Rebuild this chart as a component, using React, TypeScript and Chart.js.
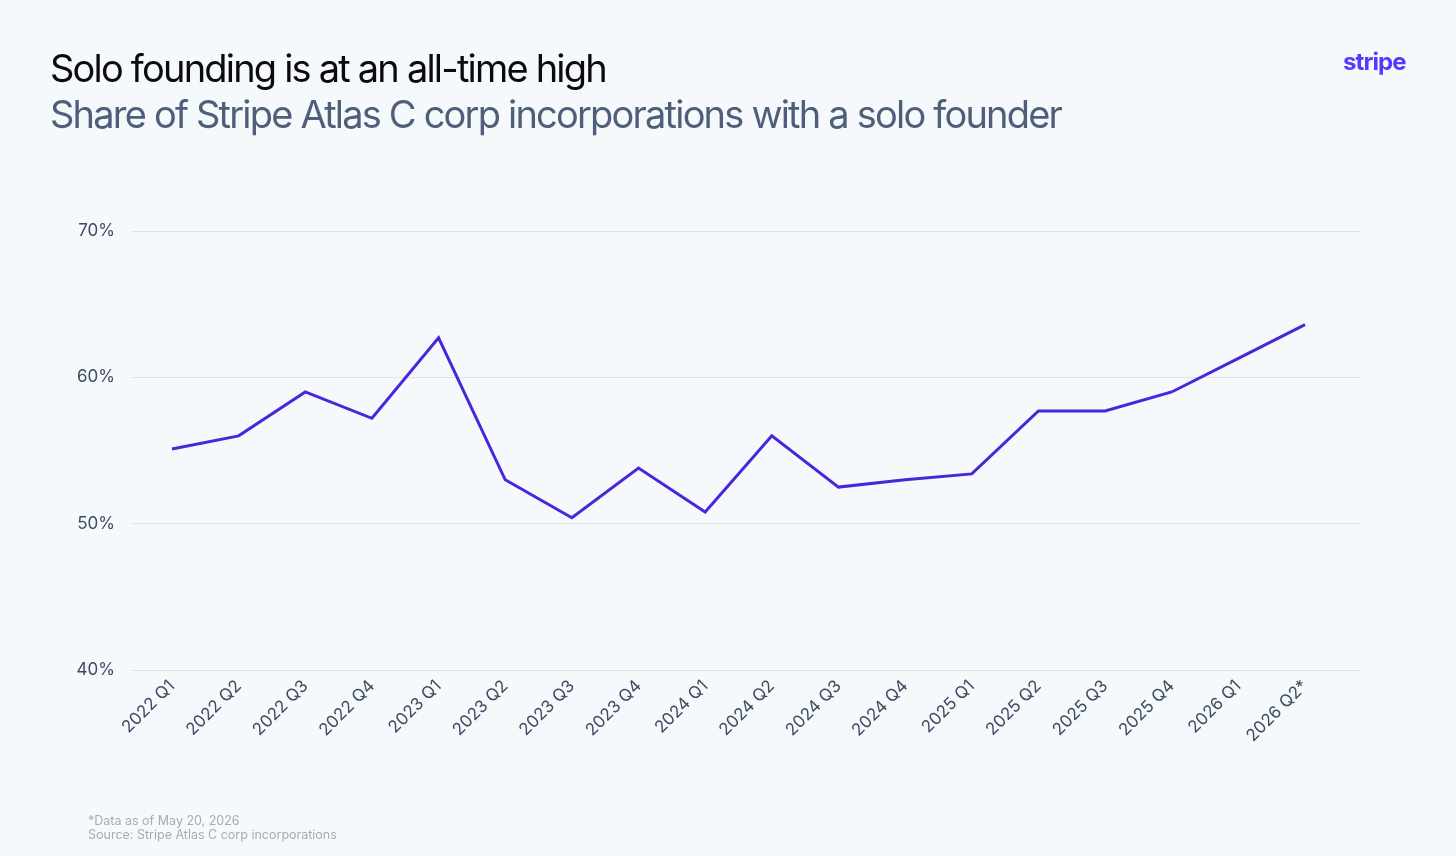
import React, { useEffect, useRef } from 'react';
import { Chart, registerables } from 'chart.js';

Chart.register(...registerables);

const quarters = [
  '2022 Q1', '2022 Q2', '2022 Q3', '2022 Q4',
  '2023 Q1', '2023 Q2', '2023 Q3', '2023 Q4',
  '2024 Q1', '2024 Q2', '2024 Q3', '2024 Q4',
  '2025 Q1', '2025 Q2', '2025 Q3', '2025 Q4',
  '2026 Q1', '2026 Q2*',
];
const soloShare = [
  55.1, 56.0, 59.0, 57.2,
  62.7, 53.0, 50.4, 53.8,
  50.8, 56.0, 52.5, 53.0,
  53.4, 57.7, 57.7, 59.0,
  61.3, 63.6,
];
const yTicks = [40, 50, 60, 70];

const FONT = 'Inter, "Noto Sans", sans-serif';

const App: React.FC = () => {
  const canvasRef = useRef<HTMLCanvasElement>(null);

  useEffect(() => {
    const ctx = canvasRef.current?.getContext('2d');
    if (!ctx) return;
    const chart = new Chart(ctx, {
      type: 'line',
      data: {
        datasets: [
          {
            label: 'Solo founder share',
            data: soloShare.map((v, i) => ({ x: i, y: v })),
            borderColor: '#4826dc',
            borderWidth: 3,
            pointRadius: 0,
            tension: 0,
            fill: false,
          },
        ],
      },
      options: {
        animation: false,
        responsive: false,
        devicePixelRatio: 1,
        layout: { padding: { top: 231, right: 96, left: 0, bottom: 0 } },
        plugins: { legend: { display: false }, tooltip: { enabled: false } },
        scales: {
          x: {
            type: 'linear',
            min: -0.6,
            max: 17.825,
            grid: { display: false, drawTicks: false },
            border: { display: false },
            afterFit: (s: any) => { s.height = 186; },
            ticks: {
              stepSize: 1,
              autoSkip: false,
              minRotation: 45,
              maxRotation: 45,
              padding: 6,
              color: '#3d4b63',
              font: { family: FONT, size: 17 },
              callback: (v: any) => (Number.isInteger(v) ? quarters[v] : ''),
            },
          },
          y: {
            min: yTicks[0],
            max: yTicks[yTicks.length - 1],
            afterFit: (s: any) => { s.width = 132; },
            afterBuildTicks: (s: any) => { s.ticks = yTicks.map((v) => ({ value: v })); },
            grid: { color: '#dfe4eb', lineWidth: 1, drawTicks: false },
            border: { display: false },
            ticks: {
              padding: 17,
              color: '#3d4b63',
              font: { family: FONT, size: 17 },
              callback: (v: any) => `${v}%`,
            },
          },
        },
      },
    });
    return () => chart.destroy();
  }, []);

  return (
    <div style={{ position: 'fixed', inset: 0, width: 1456, height: 856, background: '#f6f9fc', fontFamily: FONT, overflow: 'hidden' }}>
      <canvas ref={canvasRef} width={1456} height={856} style={{ position: 'absolute', left: 0, top: 0 }} />
      <div style={{ position: 'absolute', left: 50, top: 45, fontSize: 38, letterSpacing: -1.8, color: '#0b0b0d', lineHeight: '46px' }}>
        Solo founding is at an all-time high
      </div>
      <div style={{ position: 'absolute', left: 50, top: 91, fontSize: 38, letterSpacing: -1.8, color: '#4f5f7a', lineHeight: '46px' }}>
        Share of Stripe Atlas C corp incorporations with a solo founder
      </div>
      <div style={{ position: 'absolute', left: 1343, top: 47, fontSize: 24, fontWeight: 700, letterSpacing: -0.9, color: '#533afd' }}>
        stripe
      </div>
      <div style={{ position: 'absolute', left: 88, top: 814, fontSize: 12.5, color: '#a3acb9', lineHeight: '14px' }}>
        <div>*Data as of May 20, 2026</div>
        <div>Source: Stripe Atlas C corp incorporations</div>
      </div>
    </div>
  );
};

export default App;
